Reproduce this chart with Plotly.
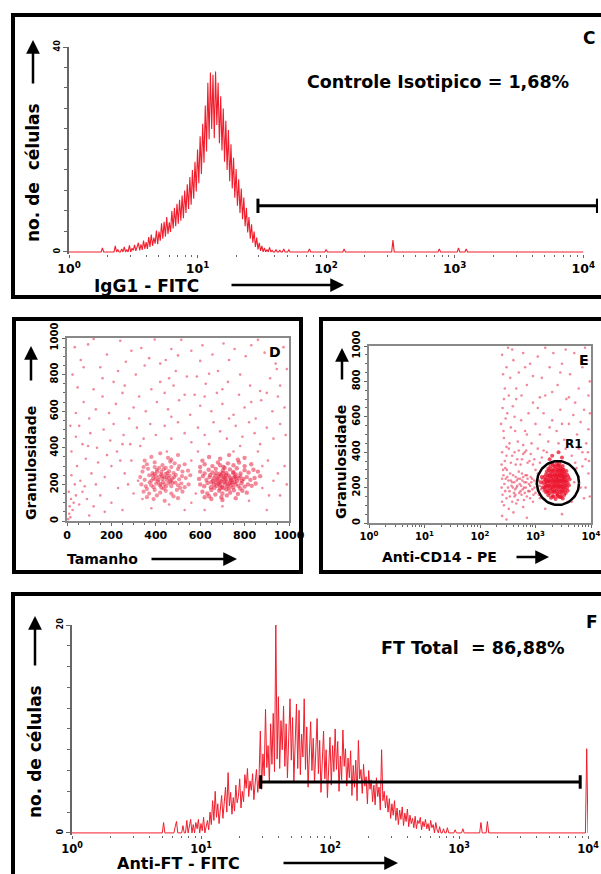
import numpy as np
import plotly.graph_objects as go

W, H = 601, 874
FONT = "DejaVu Sans"

# ------------------------------------------------------------------ data
LOG_TICK_VALS = [1, 10, 100, 1000, 10000]
LOG_TICK_TEXT = ["10<sup>0</sup>", "10<sup>1</sup>", "10<sup>2</sup>", "10<sup>3</sup>", "10<sup>4</sup>"]
LOG_MINOR_VALS = [2, 3, 4, 5, 6, 7, 8, 9, 20, 30, 40, 50, 60, 70, 80, 90,
                  200, 300, 400, 500, 600, 700, 800, 900,
                  2000, 3000, 4000, 5000, 6000, 7000, 8000, 9000]
LIN_TICK_VALS = [0, 200, 400, 600, 800, 1000]

# Panel C : IgG1-FITC isotype histogram (channel = log10 value, step 0.01)
C_EXP_START = 0.20
C_COUNTS = [
    0, 0, 0, 0, 0, 0, 0.8, 0, 0, 0,
    0, 0, 0, 0, 0, 0, 1.2, 0, 0.5, 0,
    0, 0.6, 0, 1.0, 0, 0.4, 0, 1.3, 0, 0.7,
    0.3, 1.4, 0.2, 1.1, 1.8, 0.3, 1.5, 0.4, 2.2, 0.6,
    1.9, 0.6, 2.9, 1.0, 3.4, 1.2, 2.8, 1.6, 4.2, 1.5,
    4.0, 2.2, 5.6, 2.6, 5.9, 3.0, 6.8, 3.5, 5.8, 3.9,
    8.0, 4.6, 8.6, 5.0, 9.4, 5.5, 10.2, 6.1, 11.0, 6.6,
    12.0, 7.6, 13.2, 8.4, 14.6, 9.2, 16.0, 10.4, 17.6, 11.8,
    20.0, 13.4, 22.6, 15.2, 25.0, 17.4, 28.6, 19.6, 33.0, 22.0,
    35.0, 24.0, 34.6, 22.2, 35.2, 24.8, 33.0, 21.2, 30.4, 19.8,
    28.0, 17.6, 25.6, 16.0, 23.8, 13.8, 21.0, 12.4, 18.4, 10.6,
    16.2, 9.0, 14.2, 7.6, 12.4, 6.4, 10.6, 5.0, 8.6, 3.8,
    6.8, 2.6, 5.4, 1.8, 4.0, 1.0, 2.8, 0.5, 1.8, 0.2,
    1.2, 0, 0.8, 0, 0.5, 0, 0.9, 0, 0.3, 0,
    0, 0.5, 0, 0, 0.3, 0, 0, 0.6, 0, 0,
    0, 0.4, 0, 0, 0, 0,
]
C_BLIP_EXP = [1.87, 2.00, 2.14, 2.52, 2.88, 3.03, 3.09]
C_BLIP_COUNT = [0.6, 0.5, 0.6, 2.3, 0.6, 0.8, 0.6]
C_GATE = [29.5, 12900]
C_GATE_LEVEL = 9.0
C_LABEL = "Controle Isotipico = 1,68%"

# Panel F : Anti-FT-FITC histogram
F_EXP_START = 0.65
F_COUNTS = [
    0, 0, 0, 0, 0, 0, 1.0, 0, 0, 0,
    0, 0, 0, 0, 0, 0.6, 1.1, 0, 0, 0,
    0, 0.7, 0, 0, 1.2, 0, 0.5, 1.3, 0, 0.8,
    0, 1.0, 0.4, 1.3, 0, 0.9, 0.2, 1.5, 0, 0.6,
    1.2, 0.3, 2.0, 0.8, 3.1, 1.2, 4.0, 1.5, 2.8, 0.9,
    2.2, 3.6, 1.4, 2.9, 4.4, 2.0, 5.8, 2.6, 3.9, 1.8,
    3.4, 2.1, 4.6, 2.9, 3.5, 5.2, 2.4, 4.0, 3.0, 5.6,
    4.3, 6.2, 3.5, 5.0, 4.1, 5.7, 3.2, 4.8, 6.1, 3.9,
    5.4, 9.8, 4.2, 7.6, 5.5, 11.9, 6.3, 8.4, 4.8, 10.5,
    6.6, 11.5, 5.9, 20.0, 7.1, 13.1, 6.2, 10.8, 8.0, 12.2,
    6.4, 10.5, 5.3, 9.2, 12.9, 7.0, 11.1, 4.9, 8.8, 12.4,
    6.2, 11.8, 5.6, 9.5, 7.3, 12.9, 6.1, 10.2, 4.4, 8.6,
    10.7, 6.0, 9.1, 4.8, 8.2, 11.0, 5.7, 8.9, 3.9, 7.6,
    9.8, 5.2, 8.0, 3.4, 7.1, 9.2, 4.6, 8.4, 5.9, 10.0,
    6.1, 8.8, 4.0, 7.4, 5.1, 9.9, 6.4, 8.1, 4.5, 7.2,
    5.3, 7.9, 3.6, 6.5, 4.4, 7.0, 3.1, 8.9, 5.2, 6.1,
    3.8, 6.6, 4.5, 5.4, 2.8, 6.0, 4.2, 5.1, 3.0, 4.6,
    2.7, 5.3, 3.5, 4.4, 2.2, 8.0, 3.1, 4.0, 2.4, 3.6,
    2.0, 3.3, 1.4, 2.8, 1.7, 3.1, 1.2, 2.4, 0.8, 2.2,
    1.3, 2.5, 0.7, 1.9, 1.1, 2.3, 0.6, 1.7, 0.9, 1.4,
    0.5, 1.6, 0.4, 1.2, 0.9, 1.5, 0.3, 1.1, 0.6, 1.3,
    0.4, 0.9, 0.2, 1.2, 0.5, 0.8, 0, 1.0, 0.3, 0,
    0.6, 0, 0, 0.4, 0, 0, 0.5, 0, 0, 0,
    0, 0, 0.3, 0, 0, 0, 0, 0, 0.4, 0,
    0, 0, 0, 0, 0, 0, 0, 0, 0, 0,
    0, 0, 1.0, 0, 0, 0, 0, 1.1, 0, 0,
    0, 0, 0, 0, 0, 0,
]
F_BLIP_EXP = [3.99]
F_BLIP_COUNT = [8.1]
F_GATE = [29.0, 8700]
F_GATE_LEVEL = 4.9
F_LABEL = "FT Total  = 86,88%"

# Panel D : size (Tamanho) vs granularity (Granulosidade)
D_BACKGROUND = [
    (35, 950), (62, 880), (95, 965), (150, 840), (180, 910), (240, 985), (265, 870), (290, 930), (335, 945), (370, 890),
    (395, 992), (445, 880), (470, 940), (515, 990), (560, 930), (610, 960), (655, 910), (705, 970), (730, 880), (755, 940),
    (805, 900), (830, 960), (890, 920), (975, 950), (120, 995), (420, 860), (600, 875), (860, 990), (940, 860), (500, 905),
    (25, 800), (120, 720), (210, 760), (310, 800), (350, 850), (420, 760), (490, 820), (540, 790), (585, 790), (680, 820),
    (780, 800), (915, 780), (945, 830), (990, 830), (48, 730), (160, 780), (260, 740), (380, 720), (440, 700), (480, 740),
    (625, 750), (725, 760), (825, 740), (870, 710), (75, 840), (230, 820), (460, 780), (640, 805), (700, 720), (960, 740),
    (75, 650), (100, 560), (130, 610), (160, 680), (190, 590), (220, 640), (250, 700), (280, 560), (300, 620), (325, 680),
    (355, 600), (405, 650), (455, 610), (505, 660), (530, 690), (555, 580), (575, 690), (600, 630), (650, 600), (675, 700),
    (700, 640), (750, 580), (775, 690), (800, 620), (850, 560), (875, 660), (900, 700), (925, 600), (950, 680), (980, 620),
    (40, 590), (470, 570), (620, 680), (730, 560), (830, 650),
    (15, 520), (40, 460), (70, 420), (105, 480), (135, 400), (165, 500), (195, 440), (225, 380), (255, 470), (285, 420),
    (315, 510), (345, 450), (375, 530), (400, 470), (440, 520), (470, 450), (500, 540), (530, 480), (560, 430), (590, 510),
    (620, 470), (660, 540), (690, 490), (720, 450), (760, 520), (790, 460), (820, 540), (845, 480), (870, 420), (900, 510),
    (930, 450), (960, 530), (985, 470), (55, 520), (210, 530), (330, 410), (640, 420), (780, 410), (95, 410), (250, 420),
    (20, 380), (45, 300), (60, 220), (85, 340), (110, 260), (140, 320), (170, 240), (200, 300), (230, 180), (260, 260),
    (290, 330), (300, 150), (320, 220), (340, 120), (950, 260), (905, 330), (880, 180), (960, 140), (980, 300), (930, 220),
    (10, 40), (12, 80), (18, 120), (8, 160), (25, 60), (30, 100), (15, 20), (40, 140), (55, 90), (70, 160),
    (90, 120), (120, 80), (150, 140), (200, 100), (250, 60), (560, 100), (700, 80), (820, 110), (460, 90), (380, 70),
    (35, 200), (80, 190), (130, 200), (180, 360), (240, 330), (275, 200), (560, 330), (580, 150), (590, 380), (880, 300),
    (910, 140), (990, 200), (5, 10), (20, 250), (100, 30), (170, 50), (620, 60), (900, 60), (530, 60), (750, 380),
    (450, 380), (860, 380),
]
D_CLUSTER_1 = [
    (380, 350), (420, 370), (455, 345), (500, 360), (350, 330), (470, 335),
    (360, 310), (395, 320), (430, 305), (465, 325), (505, 300), (345, 295), (415, 290), (485, 315), (530, 310),
    (340, 270), (365, 285), (385, 262), (405, 280), (425, 268), (445, 290), (460, 272), (480, 262), (500, 284), (520, 270),
    (545, 275), (395, 295), (435, 283), (470, 295),
    (330, 240), (350, 225), (370, 250), (388, 232), (400, 245), (412, 225), (425, 255), (438, 238), (450, 222), (462, 248),
    (475, 232), (490, 252), (505, 228), (518, 245), (535, 235), (555, 250), (380, 220), (445, 258), (415, 242), (395, 258),
    (430, 230), (458, 235), (483, 240),
    (335, 200), (355, 190), (372, 210), (390, 185), (402, 205), (418, 195), (432, 212), (446, 188), (458, 205), (470, 190),
    (488, 210), (500, 195), (515, 205), (530, 185), (548, 200), (380, 195), (425, 182), (465, 215), (510, 180), (440, 200),
    (345, 160), (370, 150), (395, 170), (420, 155), (445, 165), (470, 150), (495, 170), (520, 160), (405, 140), (480, 135),
    (360, 175), (435, 178), (390, 120), (440, 110), (500, 125), (360, 130),
    (410, 215), (452, 262), (398, 228), (428, 246), (468, 222), (422, 202), (448, 240), (386, 248), (476, 208), (406, 268),
]
D_CLUSTER_2 = [
    (640, 350), (690, 340), (730, 360), (770, 335), (610, 330), (800, 345),
    (620, 310), (655, 300), (680, 320), (705, 295), (725, 315), (750, 305), (775, 320), (800, 300), (830, 310), (600, 295),
    (690, 305),
    (600, 270), (620, 260), (638, 280), (655, 265), (670, 285), (688, 258), (702, 275), (718, 262), (734, 282), (750, 268),
    (765, 288), (782, 260), (800, 278), (818, 265), (840, 280), (860, 270), (645, 252), (710, 290), (760, 255),
    (595, 230), (612, 245), (628, 225), (642, 240), (657, 220), (668, 248), (680, 232), (693, 218), (705, 242), (716, 228),
    (728, 248), (740, 222), (752, 238), (766, 218), (780, 245), (795, 230), (810, 240), (826, 225), (845, 235), (870, 245),
    (685, 245), (720, 215), (760, 232), (700, 228), (735, 236),
    (600, 200), (618, 190), (633, 208), (648, 185), (662, 200), (675, 192), (688, 210), (698, 186), (710, 204), (722, 190),
    (735, 208), (748, 184), (760, 200), (772, 192), (786, 206), (800, 188), (815, 200), (832, 192), (850, 205), (690, 196),
    (740, 196), (705, 180), (670, 212), (755, 212),
    (610, 160), (632, 150), (650, 170), (668, 145), (685, 165), (700, 150), (718, 172), (735, 155), (752, 168), (770, 148),
    (790, 165), (810, 155), (640, 135), (720, 140), (695, 130), (780, 178), (650, 120), (700, 115), (760, 125), (620, 130),
    (676, 226), (712, 236), (744, 210), (694, 250), (726, 200), (662, 234), (758, 244), (708, 214), (682, 204), (738, 226),
    (716, 252), (672, 262), (748, 262), (690, 178), (730, 176), (650, 212), (774, 234), (664, 182), (788, 220), (702, 262),
]

# Panel E : Anti-CD14-PE vs granularity
E_BACKGROUND = [
    (250, 950), (300, 880), (280, 760), (320, 990), (350, 820), (400, 920), (500, 850), (600, 960), (700, 780), (800, 900),
    (1100, 940), (1300, 820), (1800, 880), (2100, 960), (2500, 780), (3000, 900), (4200, 840), (5000, 960), (6000, 760),
    (7000, 880), (8500, 920), (9500, 800), (260, 840), (330, 720), (380, 980), (450, 760), (560, 720), (900, 830),
    (1500, 990), (2000, 740), (3500, 980), (4000, 710), (7800, 990), (9000, 720), (270, 700), (650, 880), (1200, 710),
    (2800, 850),
    (240, 560), (270, 480), (310, 620), (360, 540), (420, 600), (450, 700), (480, 460), (550, 580), (650, 520), (750, 620),
    (850, 450), (900, 680), (1000, 560), (1200, 500), (1400, 620), (1500, 720), (1700, 460), (2000, 580), (2400, 520),
    (2800, 640), (3300, 470), (3600, 700), (4000, 560), (4800, 610), (5600, 500), (6500, 570), (7500, 640), (9000, 530),
    (255, 650), (290, 590), (340, 450), (390, 660), (600, 440), (700, 500), (1100, 650), (1800, 540), (2600, 450),
    (3000, 560), (5200, 680), (8200, 450), (9600, 620), (265, 520), (300, 430), (430, 520),
    (250, 400), (280, 350), (330, 420), (380, 380), (440, 330), (500, 410), (570, 360), (640, 400), (720, 340), (820, 390),
    (950, 360), (1100, 420), (1300, 370), (1600, 400), (3500, 420), (4500, 380), (6000, 420), (8000, 360), (245, 330),
    (300, 380), (360, 340), (420, 400), (470, 360), (540, 330), (600, 390), (680, 410), (780, 350), (900, 330),
    (1200, 340), (1400, 410), (5200, 340), (7000, 400), (9200, 350),
    (260, 300), (290, 250), (320, 200), (350, 280), (380, 230), (410, 170), (440, 260), (470, 210), (500, 290), (540, 180),
    (580, 240), (620, 200), (660, 270), (700, 150), (760, 220), (820, 260), (880, 190), (950, 240), (1000, 170),
    (1100, 280), (1200, 210), (1300, 250), (1400, 180), (1550, 230), (255, 160), (275, 220), (300, 140), (340, 180),
    (360, 240), (390, 200), (420, 150), (460, 240), (520, 220), (560, 160), (600, 260), (680, 230), (740, 180), (800, 210),
    (870, 250), (920, 160), (1050, 220), (270, 100), (330, 80), (450, 110), (600, 90), (900, 120), (1200, 140), (265, 270),
    (310, 260), (430, 190), (530, 250), (700, 270), (640, 170), (245, 200), (250, 250), (285, 180), (305, 300), (325, 240),
    (345, 150), (370, 210), (395, 270), (415, 230), (435, 160), (455, 200), (485, 250), (510, 170), (550, 210), (570, 280),
    (590, 190), (630, 230), (670, 200), (720, 250), (780, 180), (840, 230), (960, 200), (1150, 240), (1250, 190),
    (1350, 220), (1450, 250), (285, 310), (480, 130), (620, 130), (800, 140), (380, 120), (250, 120), (1000, 300),
    (1150, 160),
    (5000, 150), (6000, 260), (7000, 320), (8000, 200), (9000, 280), (4500, 120), (5500, 310), (7500, 140), (8800, 400),
    (3800, 120), (6500, 200), (9500, 150), (5000, 230),
    (250, 40), (400, 60), (700, 30), (1500, 80), (300, 20), (3000, 50),
]
E_CLUSTER = [
    (1900, 142), (2300, 136), (2700, 147), (3100, 139),
    (1700, 157), (2050, 153), (2450, 160), (2850, 152), (3300, 158),
    (1550, 172), (1800, 168), (2150, 174), (2500, 167), (2950, 171), (3500, 169),
    (1500, 186), (1700, 183), (1950, 188), (2200, 182), (2600, 187), (3000, 184), (3400, 189), (3800, 182),
    (1450, 199), (1650, 203), (1850, 197), (2100, 201), (2350, 198), (2650, 204), (2900, 196), (3250, 202), (3700, 199),
    (1500, 216), (1750, 213), (1950, 218), (2250, 214), (2500, 217), (2800, 212), (3100, 219), (3550, 215), (4000, 213),
    (1400, 231), (1600, 228), (1800, 233), (2050, 229), (2300, 232), (2550, 227), (2700, 234), (3000, 229), (3350, 231),
    (3800, 228),
    (1500, 246), (1700, 243), (1900, 248), (2150, 244), (2400, 247), (2650, 242), (2950, 249), (3200, 245), (3600, 243),
    (4100, 247),
    (1450, 261), (1650, 258), (1850, 263), (2100, 259), (2350, 262), (2600, 257), (2850, 264), (3150, 260), (3450, 258),
    (3900, 262),
    (1550, 276), (1800, 273), (2000, 278), (2250, 274), (2500, 277), (2750, 272), (3050, 279), (3350, 275), (3700, 273),
    (1600, 291), (1850, 288), (2150, 293), (2400, 289), (2700, 292), (2950, 287), (3300, 290), (3600, 294),
    (1700, 306), (1950, 303), (2300, 308), (2600, 304), (2900, 307), (3200, 302),
    (1850, 321), (2200, 318), (2500, 323), (2800, 319), (3100, 322),
    (2000, 336), (2400, 333), (2700, 338),
    (2100, 148), (2500, 151), (2900, 146),
    (1650, 178), (2000, 176), (2350, 181), (2750, 175), (3200, 179),
    (1550, 207), (1750, 210), (2000, 205), (2200, 212), (2450, 206), (2750, 209), (3050, 204), (3400, 211),
    (1550, 238), (1750, 236), (2000, 240), (2200, 235), (2450, 241), (2800, 237), (3100, 242), (3500, 236),
    (1700, 268), (1950, 265), (2200, 270), (2450, 266), (2700, 271), (3000, 267), (3300, 263),
    (1750, 298), (2050, 296), (2500, 300), (2800, 297), (3100, 301),
    (2100, 326), (2600, 323),
    (2000, 380), (2600, 400), (1800, 360), (3000, 370), (1250, 230), (1300, 260), (1350, 200),
]
E_GATE_CENTER = (2540, 226)   # R1 region: centre (value, value)
E_GATE_RADIUS = (0.38, 124)   # radius (decades, granularity units)

# ------------------------------------------------------------------ helpers
def px(x):
    return x / W


def py(y):
    return 1 - y / H


def full_hist(start, counts, blip_exp, blip_count):
    exps = np.round(np.arange(401) * 0.01, 2)
    vals = np.zeros(401)
    i0 = int(round(start / 0.01))
    vals[i0:i0 + len(counts)] = counts
    for e, c in zip(blip_exp, blip_count):
        vals[int(round(e / 0.01))] = c
    return 10 ** exps, vals


def gate_xy(gate, level, cap):
    a, b = gate
    return ([a, b, None, a, a, None, b, b],
            [level, level, None, level - cap, level + cap, None, level - cap, level + cap])


HIST_COLOR = "rgb(240,30,45)"
DOT_COLOR = "rgba(232,40,72,0.55)"
AX_COLOR = "#666666"

fig = go.Figure()

# C histogram
cx, cy = full_hist(C_EXP_START, C_COUNTS, C_BLIP_EXP, C_BLIP_COUNT)
fig.add_trace(go.Scatter(x=cx, y=cy, mode="lines", line=dict(color=HIST_COLOR, width=1.1),
                         xaxis="x", yaxis="y", hoverinfo="skip"))
gx, gy = gate_xy(C_GATE, C_GATE_LEVEL, 1.4)
fig.add_trace(go.Scatter(x=gx, y=gy, mode="lines", line=dict(color="black", width=3),
                         xaxis="x", yaxis="y", hoverinfo="skip"))

# D scatter
for pts, sz, col in ((D_BACKGROUND, 2.6, DOT_COLOR), (D_CLUSTER_1, 4.2, "rgba(232,35,65,0.5)"),
                     (D_CLUSTER_2, 4.4, "rgba(232,35,65,0.55)")):
    fig.add_trace(go.Scatter(x=[p[0] for p in pts], y=[p[1] for p in pts], mode="markers",
                             marker=dict(color=col, size=sz, line=dict(width=0)),
                             xaxis="x2", yaxis="y2", hoverinfo="skip"))

# E scatter
for pts, sz, col in ((E_BACKGROUND, 2.6, DOT_COLOR), (E_CLUSTER, 4.0, "rgba(235,20,45,0.75)")):
    fig.add_trace(go.Scatter(x=[p[0] for p in pts], y=[p[1] for p in pts], mode="markers",
                             marker=dict(color=col, size=sz, line=dict(width=0)),
                             xaxis="x3", yaxis="y3", hoverinfo="skip"))
t = np.linspace(0, 2 * np.pi, 90)
fig.add_trace(go.Scatter(x=10 ** (np.log10(E_GATE_CENTER[0]) + E_GATE_RADIUS[0] * np.cos(t)),
                         y=E_GATE_CENTER[1] + E_GATE_RADIUS[1] * np.sin(t), mode="lines",
                         line=dict(color="black", width=2.5), xaxis="x3", yaxis="y3", hoverinfo="skip"))

# F histogram
fx, fy = full_hist(F_EXP_START, F_COUNTS, F_BLIP_EXP, F_BLIP_COUNT)
fig.add_trace(go.Scatter(x=fx, y=fy, mode="lines", line=dict(color=HIST_COLOR, width=1),
                         xaxis="x4", yaxis="y4", hoverinfo="skip"))
gx, gy = gate_xy(F_GATE, F_GATE_LEVEL, 0.65)
fig.add_trace(go.Scatter(x=gx, y=gy, mode="lines", line=dict(color="black", width=3),
                         xaxis="x4", yaxis="y4", hoverinfo="skip"))


def tfont(size):
    return dict(family=FONT, size=size, color="black", weight="bold")


def log_x(domain, anchor, rng, size):
    return dict(type="log", domain=domain, anchor=anchor, range=rng, tickvals=LOG_TICK_VALS,
                ticktext=LOG_TICK_TEXT, ticks="outside", ticklen=3, tickcolor=AX_COLOR, tickwidth=1,
                minor=dict(tickvals=LOG_MINOR_VALS, ticks="outside", ticklen=2, tickcolor=AX_COLOR),
                showgrid=False, zeroline=False, tickfont=tfont(size), automargin=False)


def count_y(domain, anchor, rng, top, step):
    return dict(domain=domain, anchor=anchor, range=rng, tickvals=[0, top], ticks="outside", ticklen=4,
                tickcolor=AX_COLOR, showline=True, linecolor=AX_COLOR, linewidth=1.5,
                minor=dict(dtick=step, ticks="outside", ticklen=3, tickcolor=AX_COLOR),
                showgrid=False, zeroline=False, tickangle=-90, tickfont=tfont(8), automargin=False)


def lin_axis(domain, anchor, size, angle=0):
    return dict(domain=domain, anchor=anchor, range=[0, 1000], tickvals=LIN_TICK_VALS,
                ticks="outside", ticklen=3, tickcolor=AX_COLOR, showline=True, mirror=True,
                linecolor="#888888", linewidth=1.5, showgrid=False, zeroline=False, tickangle=angle,
                minor=dict(dtick=50, ticks="outside", ticklen=2, tickcolor=AX_COLOR),
                tickfont=tfont(size), automargin=False)


fig.update_layout(
    template="none",
    width=W, height=H, autosize=False, margin=dict(l=0, r=0, t=0, b=0, pad=0),
    paper_bgcolor="white", plot_bgcolor="white", showlegend=False,
    xaxis=log_x([px(69), px(598)], "y", [0, 4.115], 12.5),
    yaxis=count_y([py(254), py(47)], "x", [-0.4, 40], 40, 4),
    xaxis2=lin_axis([px(67), px(289)], "y2", 11),
    yaxis2=lin_axis([py(521), py(338)], "x2", 10, -90),
    xaxis3=dict(log_x([px(369), px(591)], "y3", [0, 4], 10), showline=True, mirror=True,
                linecolor="#888888", linewidth=1.5),
    yaxis3=lin_axis([py(523), py(346)], "x3", 10, -90),
    xaxis4=log_x([px(72), px(588)], "y4", [0, 4], 11.5),
    yaxis4=count_y([py(835), py(625)], "x4", [-0.2, 20], 20, 2),
)

# panel frames
frames = [(13, 15, 612, 297), (14, 319, 301, 572), (321, 319, 612, 572), (13, 594, 612, 890)]
for x0, y0, x1, y1 in frames:
    fig.add_shape(type="rect", xref="paper", yref="paper", x0=px(x0), x1=px(x1), y0=py(y0), y1=py(y1),
                  line=dict(color="black", width=4), fillcolor="rgba(0,0,0,0)")


def text(s, x, y, size, angle=0):
    fig.add_annotation(text=s, x=px(x), y=py(y), xref="paper", yref="paper", showarrow=False,
                       xanchor="center", yanchor="middle", textangle=angle, font=tfont(size))


def arrow(x_tip, y_tip, dx, dy):
    fig.add_annotation(text="", x=px(x_tip), y=py(y_tip), xref="paper", yref="paper", showarrow=True,
                       ax=dx, ay=dy, arrowhead=2, arrowsize=1.1, arrowwidth=2.5, arrowcolor="black",
                       standoff=0, startstandoff=0)


# C
text("C", 589, 38, 17)
text(C_LABEL, 438, 82, 17.5)
text("IgG1 - FITC", 146, 286, 17)
arrow(344, 285, -114, 0)
text("no. de  células", 33, 173, 17, -90)
arrow(33, 40, 0, 45)
# D
text("D", 275, 352, 14)
text("Granulosidade", 31, 463, 14, -90)
arrow(31, 346, 0, 36)
text("Tamanho", 103, 559, 14)
arrow(237, 559, -87, 0)
# E
text("E", 584, 360, 14)
text("Granulosidade", 341, 462, 14, -90)
arrow(342, 348, 0, 33)
text("Anti-CD14 - PE", 439, 557, 14)
arrow(549, 557, -34, 0)
text("R1", 574, 444, 12)
# F
text("F", 592, 622, 17)
text(F_LABEL, 473, 648, 17.5)
text("no. de células", 35, 752, 17, -90)
arrow(35, 616, 0, 51)
text("Anti-FT - FITC", 178, 863.5, 16)
arrow(398, 863, -116, 0)

# the page body normally has an 8px margin; remove it so the figure fills the window exactly
fig.write_html("out.html", config={"displayModeBar": False},
               post_script="document.documentElement.style.overflow='hidden';"
                           "document.body.style.margin='0';document.body.style.overflow='hidden';")
